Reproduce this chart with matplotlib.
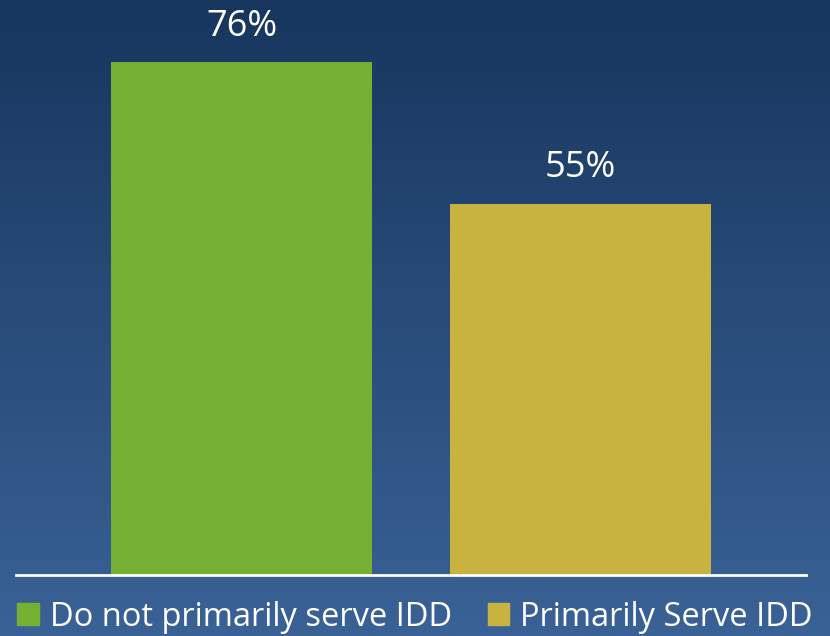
import matplotlib
matplotlib.use("Agg")
import matplotlib.pyplot as plt
import numpy as np
from matplotlib.colors import LinearSegmentedColormap
from matplotlib.patches import Patch

categories = ["Do not primarily serve IDD", "Primarily Serve IDD"]
values = [76, 55]
colors = ["#76b032", "#c9b340"]

plt.rcParams['font.family'] = ['Open Sans', 'DejaVu Sans']

W, H = 830, 636
fig = plt.figure(figsize=(W/100, H/100), dpi=100)

# gradient background
bg = fig.add_axes([0, 0, 1, 1], zorder=-10)
cmap = LinearSegmentedColormap.from_list("bg", ["#17365e", "#3a6296"])
grad = np.linspace(0, 1, 256).reshape(-1, 1)
bg.imshow(grad, aspect="auto", cmap=cmap, extent=[0, 1, 0, 1], origin="upper")
bg.axis("off")

ax = fig.add_axes([16/W, 1-575/H, 790/W, 575/H])
ax.patch.set_alpha(0)
x = np.arange(len(categories))
bars = ax.bar(x, values, width=0.77, color=colors)
for xi, v in zip(x, values):
    ax.text(xi, v + 2.6, f"{v}%", ha="center", va="bottom", color="white", fontsize=26)
ax.set_xlim(-0.665, 1.665)
ax.set_ylim(0, 85.2)
for s in ["top", "right", "left"]:
    ax.spines[s].set_visible(False)
ax.spines["bottom"].set_color("white")
ax.spines["bottom"].set_linewidth(2)
ax.set_xticks([])
ax.set_yticks([])

handles = [Patch(color=c, label=l) for c, l in zip(colors, categories)]
leg = fig.legend(handles=handles, loc="center", bbox_to_anchor=(0.5, 1-617/H), ncol=2,
                 frameon=False, fontsize=23.5, handlelength=0.65, handleheight=0.62,
                 handletextpad=0.34, columnspacing=1.1, borderaxespad=0)
for t in leg.get_texts():
    t.set_color("white")

fig.savefig("out.png", dpi=100)
